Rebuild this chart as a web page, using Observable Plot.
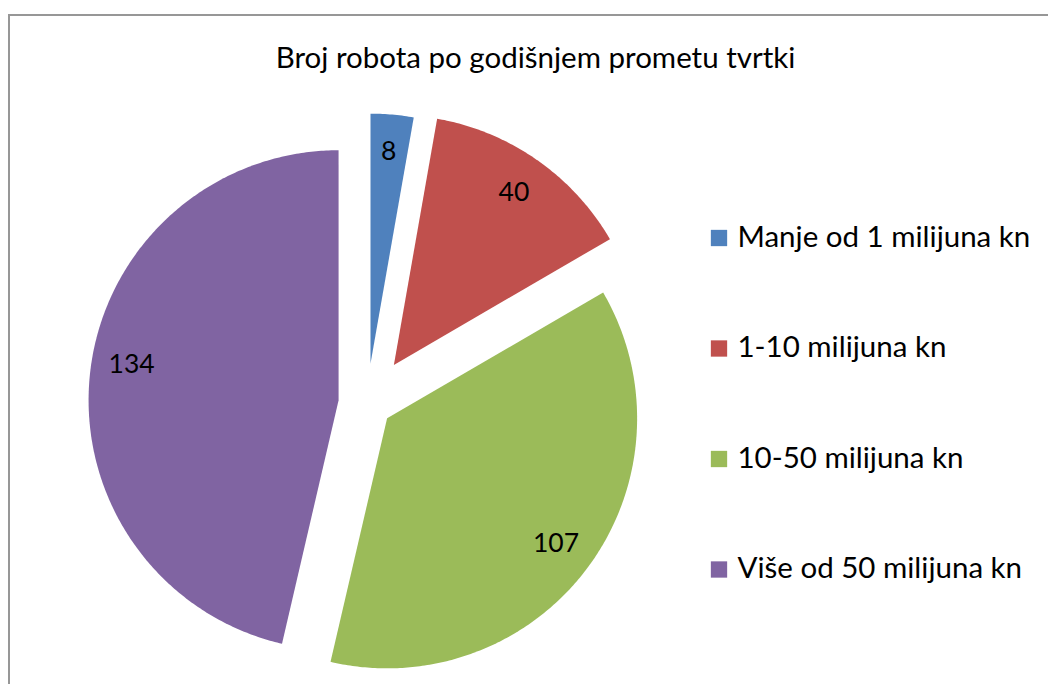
<!DOCTYPE html>
<html><head><meta charset="utf-8">
<script src="https://cdn.jsdelivr.net/npm/d3@7"></script>
<script src="https://cdn.jsdelivr.net/npm/@observablehq/plot@0.6"></script>
<style>
html,body{margin:0;padding:0;background:#fff;overflow:hidden;}
#wrap{position:relative;width:1048px;height:684px;overflow:hidden;}
#frame{position:absolute;left:8px;top:14px;width:1100px;height:800px;border:2px solid #979797;box-sizing:border-box;}
#chart{position:absolute;left:0;top:0;}
</style></head><body>
<div id="wrap"><div id="frame"></div><div id="chart"></div></div>
<script>
const title = "Broj robota po godišnjem prometu tvrtki";
const categories = ["Manje od 1 milijuna kn", "1-10 milijuna kn", "10-50 milijuna kn", "Više od 50 milijuna kn"];
const values = [8, 40, 107, 134];
const colors = ["#4F81BD", "#C0504D", "#9BBB59", "#8064A2"];

// layout (pixel-like coordinate space)
const W = 1048, H = 684;
const center = [366.5, 403];
const radius = 250;
const explode = [40, 47, 25, 28.6];
const labelRadius = 210;
const font = "Lato, 'Open Sans', sans-serif";

const arcs = d3.pie().sort(null).value(d => d)(values);
const slicePts = [];
const labels = [];
arcs.forEach((a, i) => {
  const cat = categories[i];
  const mid = (a.startAngle + a.endAngle) / 2;
  const cx = center[0] + explode[i] * Math.sin(mid);
  const cy = center[1] - explode[i] * Math.cos(mid);
  slicePts.push({cat, x: cx, y: cy});
  const n = Math.max(2, Math.ceil((a.endAngle - a.startAngle) / 0.01));
  for (let k = 0; k <= n; k++) {
    const t = a.startAngle + (a.endAngle - a.startAngle) * k / n;
    slicePts.push({cat, x: cx + radius * Math.sin(t), y: cy - radius * Math.cos(t)});
  }
  // Excel nudges the label slightly toward the slice's bounding centre
  const la = mid + (i === 3 ? 0.055 : 0);
  labels.push({text: String(values[i]), x: cx + labelRadius * Math.sin(la), y: cy - labelRadius * Math.cos(la) - (i === 0 ? 3 : 0)});
});

const legendX = 718.5, legendY0 = 237.5, legendStep = 110.5;
const legend = categories.map((c, i) => ({cat: c, x: legendX, y: legendY0 + legendStep * i}));

const chart = Plot.plot({
  width: W, height: H, margin: 0,
  x: {domain: [0, W], range: [0, W], axis: null},
  y: {domain: [0, H], range: [0, H], axis: null},
  color: {domain: categories, range: colors},
  style: {background: "transparent", fontFamily: font},
  marks: [
    Plot.line(slicePts, {x: "x", y: "y", z: "cat", fill: "cat", stroke: null, curve: "linear-closed"}),
    Plot.text(labels, {x: "x", y: "y", text: "text", fontSize: 26.5, fill: "#000", textAnchor: "middle", lineAnchor: "middle"}),
    Plot.dot(legend, {x: "x", y: "y", fill: "cat", symbol: "square", r: 9.2, stroke: null}),
    Plot.text(legend, {x: d => d.x + 18.5, y: d => d.y + 8.5, text: "cat", fontSize: 29.5, fill: "#000", textAnchor: "start", lineAnchor: "bottom"}),
    Plot.text([title], {x: () => 535, y: () => 67, text: d => d, fontSize: 29.5, fill: "#000", textAnchor: "middle", lineAnchor: "bottom"})
  ]
});
document.getElementById("chart").appendChild(chart);
</script>
</body></html>
